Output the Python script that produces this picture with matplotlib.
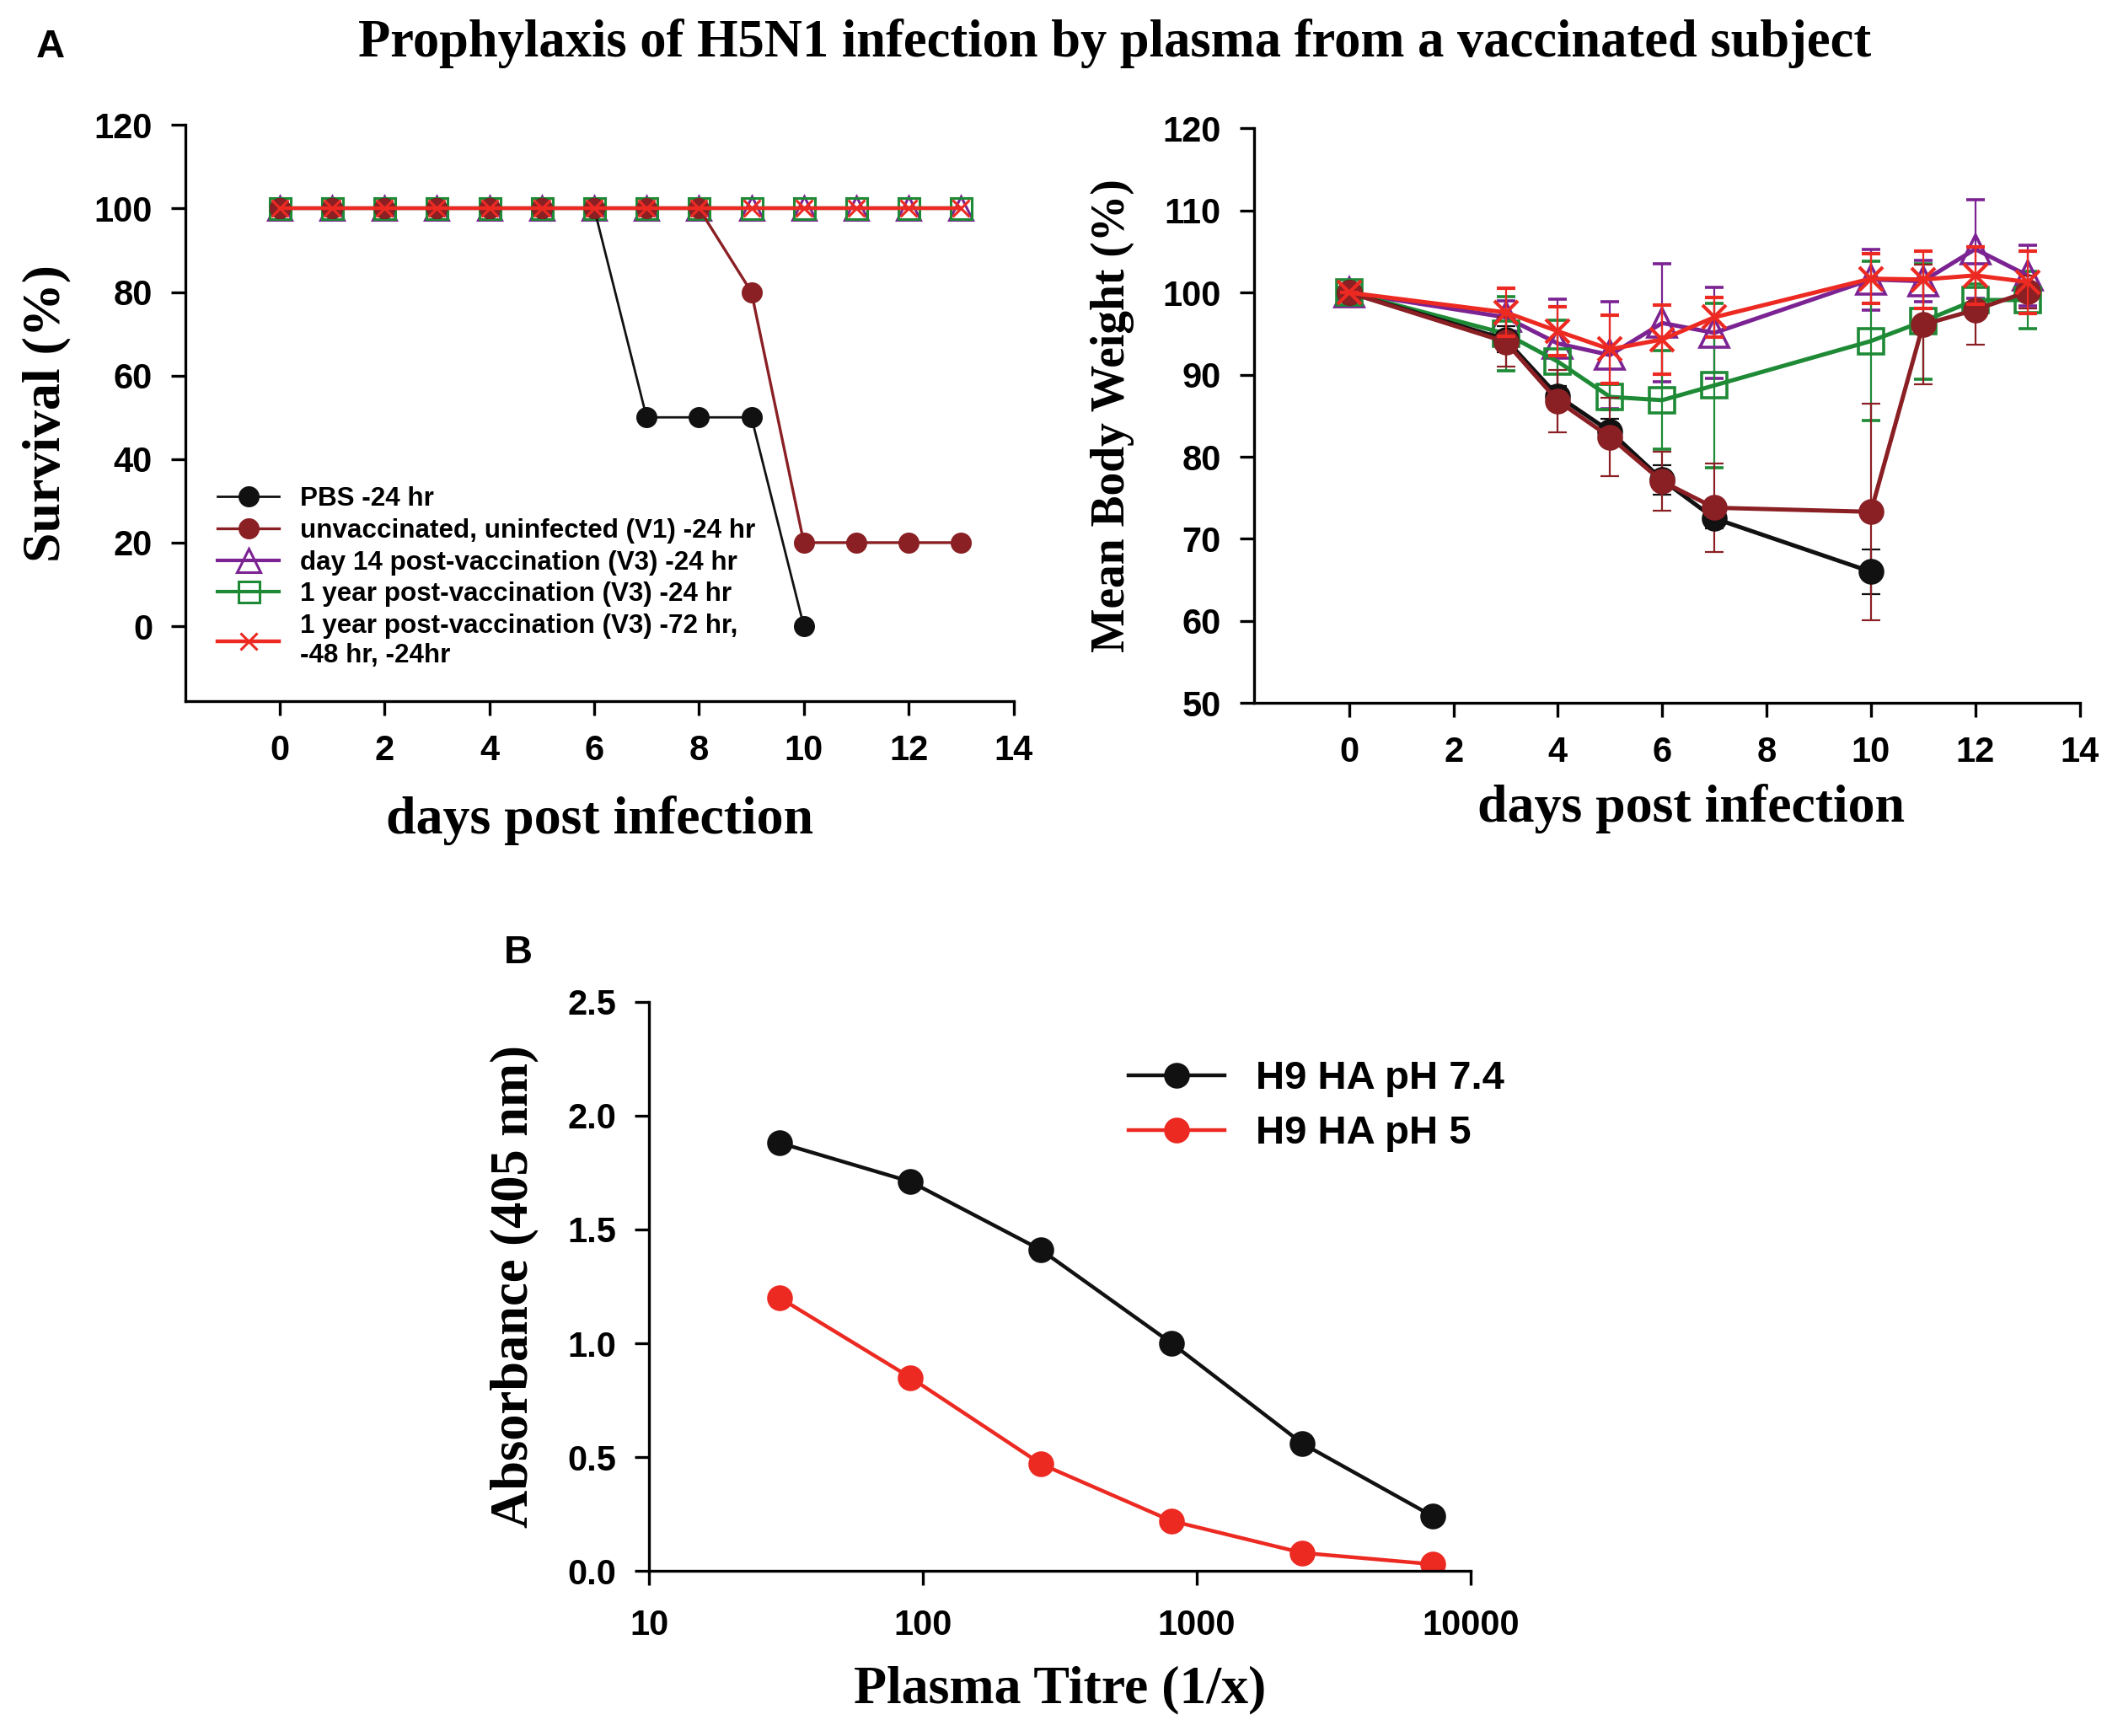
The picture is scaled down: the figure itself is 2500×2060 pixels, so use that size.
import numpy as np
import matplotlib
matplotlib.use('Agg')
import matplotlib.pyplot as plt

narrow = ['Liberation Sans Narrow', 'Liberation Sans', 'DejaVu Sans']
serif = ['Liberation Serif', 'DejaVu Serif']
plt.rcParams['font.family'] = narrow
plt.rcParams['font.weight'] = 'bold'

# survival (%)
days = list(range(14))
surv_pbs = [100, 100, 100, 100, 100, 100, 100, 50, 50, 50, 0]
surv_v1 = [100, 100, 100, 100, 100, 100, 100, 100, 100, 80, 20, 20, 20, 20]
surv_d14 = [100] * 14
surv_1y = [100] * 14
surv_1y3 = [100] * 14

# mean body weight (%)
wdays = [0, 3, 4, 5, 6, 7, 10, 11, 12, 13]
w_pbs = [100, 94.3, 87.4, 83.1, 77.2, 72.5, 66.0]
e_pbs = [0, 1.6, 1.2, 1.5, 1.8, 1.2, 2.7]
w_v1 = [100, 94.0, 86.8, 82.4, 77.0, 73.8, 73.3, 96.1, 97.9, 100.1]
e_v1 = [0, 3.0, 3.8, 4.8, 3.6, 5.4, 13.2, 7.3, 4.2, 2.0]
w_d14 = [100, 97.0, 93.8, 92.4, 96.3, 95.1, 101.6, 101.4, 105.3, 102.1]
e_d14 = [0, 2.0, 5.4, 6.5, 7.2, 5.5, 3.7, 2.5, 6.0, 3.7]
w_1y = [100, 95.0, 91.6, 87.3, 86.9, 88.7, 94.1, 96.5, 99.1, 99.1]
e_1y = [0, 4.5, 5.0, 1.5, 6.0, 10.0, 9.7, 7.0, 2.0, 3.5]
w_1y3 = [100, 97.6, 95.3, 93.1, 94.3, 97.0, 101.7, 101.6, 102.1, 101.3]
e_1y3 = [0, 2.9, 3.0, 4.2, 4.2, 2.4, 3.0, 3.5, 3.5, 3.8]

# ELISA
titre = [30, 90, 270, 810, 2430, 7290]
abs_74 = [1.88, 1.71, 1.41, 1.00, 0.56, 0.24]
abs_5 = [1.20, 0.85, 0.47, 0.22, 0.08, 0.03]

labels = ['PBS -24 hr', 'unvaccinated, uninfected (V1) -24 hr',
          'day 14 post-vaccination (V3) -24 hr', '1 year post-vaccination (V3) -24 hr',
          '1 year post-vaccination (V3) -72 hr,\n-48 hr, -24hr']

c_blk = '#111111'
c_brn = '#8a1f24'
c_pur = '#7b2392'
c_grn = '#1e8a36'
c_red = '#ec2a22'

fig = plt.figure(figsize=(12.5, 10.3), dpi=200)


def style(ax):
    ax.spines['top'].set_visible(False)
    ax.spines['right'].set_visible(False)
    for s in ('left', 'bottom'):
        ax.spines[s].set_linewidth(1.2)
    ax.tick_params(direction='out', length=6, width=1.2, labelsize=15, pad=8)


# survival panel
ax1 = fig.add_axes([0.088, 0.596, 0.393, 0.332])
ax1.plot(days[:len(surv_d14)], surv_d14, color=c_pur, marker='^', ms=10, mfc='none', mew=1.1, lw=1.5, zorder=3, label=labels[2])
ax1.plot(days, surv_1y, color=c_grn, marker='s', ms=9, mfc='none', mew=1.1, lw=1.5, zorder=3, label=labels[3])
ax1.plot(days[:len(surv_pbs)], surv_pbs, color=c_blk, marker='o', ms=8, lw=1.0, zorder=4, label=labels[0])
ax1.plot(days, surv_v1, color=c_brn, marker='o', ms=8, lw=1.2, zorder=4, label=labels[1])
ax1.plot(days, surv_1y3, color=c_red, marker='x', ms=7, mew=1.1, lw=1.6, zorder=5, label=labels[4])
ax1.set_xlim(-1.8, 14)
ax1.set_ylim(-18, 120)
ax1.set_xticks(range(0, 15, 2))
ax1.set_yticks(range(0, 121, 20))
style(ax1)
ax1.set_xlabel('days post infection', family=serif, fontsize=23, fontweight='bold', labelpad=12)
ax1.set_ylabel('Survival (%)', family=serif, fontsize=23, fontweight='bold', labelpad=10)
h, l = ax1.get_legend_handles_labels()
order = [2, 3, 0, 1, 4]
ax1.legend([h[i] for i in order], [l[i] for i in order], loc='lower left', bbox_to_anchor=(0.02, 0.03),
           frameon=False, fontsize=11.3, handlelength=2.3, labelspacing=0.25, borderaxespad=0.2)

# body weight panel
ax2 = fig.add_axes([0.595, 0.595, 0.392, 0.331])
ekw = dict(elinewidth=0.8, capsize=4, capthick=0.8)
ax2.errorbar(wdays, w_d14, yerr=e_d14, color=c_pur, marker='^', ms=12, mfc='none', mew=1.3, lw=1.8, zorder=3, **ekw)
ax2.errorbar(wdays, w_1y, yerr=e_1y, color=c_grn, marker='s', ms=11, mfc='none', mew=1.3, lw=1.8, zorder=3, **ekw)
ax2.errorbar(wdays[:len(w_pbs)], w_pbs, yerr=e_pbs, color=c_blk, marker='o', ms=10, lw=1.8, zorder=4, **ekw)
ax2.errorbar(wdays, w_v1, yerr=e_v1, color=c_brn, marker='o', ms=10, lw=1.8, zorder=4, **ekw)
ax2.errorbar(wdays, w_1y3, yerr=e_1y3, color=c_red, marker='x', ms=10, mew=1.5, lw=1.8, zorder=5, **ekw)
ax2.set_xlim(-1.83, 14)
ax2.set_ylim(50, 120)
ax2.set_xticks(range(0, 15, 2))
ax2.set_yticks(range(50, 121, 10))
style(ax2)
ax2.set_xlabel('days post infection', family=serif, fontsize=23, fontweight='bold', labelpad=6)
ax2.xaxis.set_label_coords(0.53, -0.14)
ax2.set_ylabel('Mean Body Weight (%)', family=serif, fontsize=20, fontweight='bold', labelpad=12)

# ELISA panel
ax3 = fig.add_axes([0.308, 0.095, 0.39, 0.328])
ax3.plot(titre, abs_74, color=c_blk, marker='o', ms=10, lw=1.6, label='H9 HA pH 7.4')
ax3.plot(titre, abs_5, color=c_red, marker='o', ms=10, lw=1.6, label='H9 HA pH 5')
ax3.set_xscale('log')
ax3.set_xlim(10, 10000)
ax3.set_ylim(0, 2.5)
ax3.set_xticks([10, 100, 1000, 10000])
ax3.set_xticklabels(['10', '100', '1000', '10000'])
ax3.minorticks_off()
ax3.set_yticks(np.arange(0, 2.51, 0.5))
ax3.set_yticklabels(['%.1f' % v for v in np.arange(0, 2.51, 0.5)])
style(ax3)
ax3.tick_params(axis='x', pad=10)
ax3.set_xlabel('Plasma Titre (1/x)', family=serif, fontsize=23, fontweight='bold', labelpad=10)
ax3.set_ylabel('Absorbance (405 nm)', family=serif, fontsize=22.5, fontweight='bold', labelpad=12)
ax3.legend(loc='upper right', bbox_to_anchor=(1.085, 0.96), frameon=False, fontsize=17,
           handlelength=2.4, labelspacing=0.45)

fig.text(0.529, 0.975, 'Prophylaxis of H5N1 infection by plasma from a vaccinated subject',
         family=serif, fontsize=22.5, fontweight='bold', ha='center', va='center')
fig.text(0.024, 0.973, 'A', fontsize=17, fontweight='bold', ha='center', va='center', family=['Liberation Sans', 'DejaVu Sans'])
fig.text(0.246, 0.451, 'B', fontsize=17, fontweight='bold', ha='center', va='center', family=['Liberation Sans', 'DejaVu Sans'])

fig.savefig('out.png', dpi=200)
